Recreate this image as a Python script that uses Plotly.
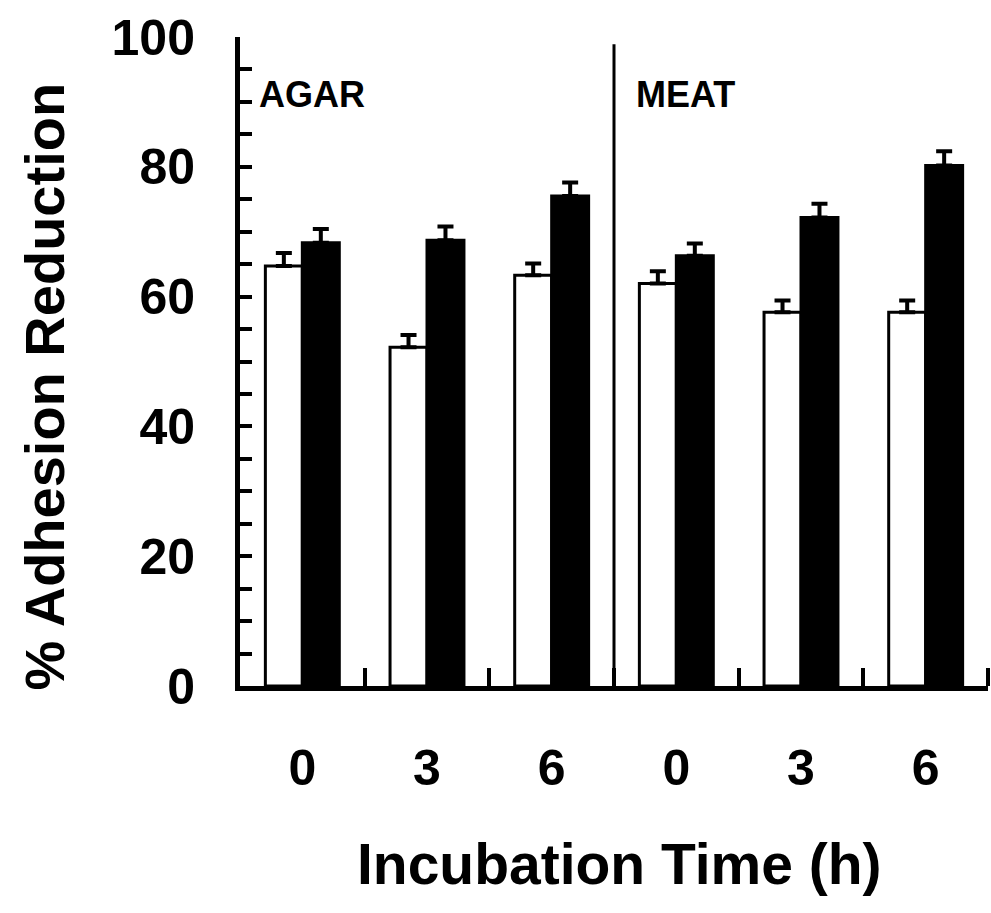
import plotly.graph_objects as go

# ---- data ----
time_labels = ["0", "3", "6", "0", "3", "6"]
white_values = [64.7, 52.2, 63.3, 62.0, 57.6, 57.6]
white_errors = [2.0, 1.9, 1.8, 1.9, 1.8, 1.8]
black_values = [68.3, 68.7, 75.5, 66.3, 72.2, 80.2]
black_errors = [2.1, 2.1, 2.1, 1.9, 2.1, 2.2]
panel_labels = ["AGAR", "MEAT"]
y_ticks = [0, 20, 40, 60, 80, 100]

positions = list(range(len(time_labels)))
boundaries = [p + 0.5 for p in positions]

FONT = "Liberation Sans, Arial, Helvetica, sans-serif"

fig = go.Figure()
fig.add_trace(go.Bar(
    x=positions, y=white_values,
    marker=dict(color="white", line=dict(color="black", width=3)),
    error_y=dict(type="data", array=white_errors, arrayminus=[0] * len(white_errors),
                 symmetric=False, color="black", thickness=4, width=8),
    showlegend=False,
))
fig.add_trace(go.Bar(
    x=positions, y=black_values,
    marker=dict(color="black", line=dict(color="black", width=3)),
    error_y=dict(type="data", array=black_errors, arrayminus=[0] * len(black_errors),
                 symmetric=False, color="black", thickness=4, width=8),
    showlegend=False,
))

# divider between AGAR and MEAT panels
fig.add_shape(type="line", xref="x", yref="y", x0=2.5, x1=2.5, y0=0, y1=98.9,
              line=dict(color="black", width=3))

fig.add_annotation(text="<b>%s</b>" % panel_labels[0], xref="x", yref="y", x=-0.36, y=91.1,
                   xanchor="left", yanchor="middle", showarrow=False,
                   font=dict(family=FONT, size=36, color="black"))
fig.add_annotation(text="<b>%s</b>" % panel_labels[1], xref="x", yref="y", x=2.66, y=91.1,
                   xanchor="left", yanchor="middle", showarrow=False,
                   font=dict(family=FONT, size=36, color="black"))

# axis titles
fig.add_annotation(text="<b>% Adhesion Reduction</b>", xref="paper", yref="paper",
                   x=-0.261, y=0.461, xanchor="center", yanchor="middle",
                   textangle=-90, showarrow=False,
                   font=dict(family=FONT, size=56, color="black"))
fig.add_annotation(text="<b>Incubation Time (h)</b>", xref="paper", yref="paper",
                   x=0.508, y=-0.274, xanchor="center", yanchor="middle",
                   showarrow=False,
                   font=dict(family=FONT, size=57, color="black"))

fig.update_layout(
    width=991, height=913,
    margin=dict(l=240, r=3, t=37, b=227),
    paper_bgcolor="white", plot_bgcolor="white",
    barmode="group", bargap=0.407, bargroupgap=0,
    font=dict(family=FONT, color="black"),
)
fig.update_xaxes(
    range=[-0.5, 5.5], tickvals=positions, ticktext=["<b>%s</b>" % t for t in time_labels],
    ticks="", showgrid=False, zeroline=False,
    showline=True, linecolor="black", linewidth=5,
    tickfont=dict(family=FONT, size=50, color="black"),
    ticklabelstandoff=34,
    minor=dict(tickvals=boundaries, ticks="inside", ticklen=18, tickwidth=4,
               tickcolor="black", showgrid=False),
)
fig.update_yaxes(
    range=[0, 100], tickvals=y_ticks, ticktext=["<b>%d</b>" % v for v in y_ticks],
    ticks="inside", ticklen=12, tickwidth=4,
    tickcolor="black", showgrid=False, zeroline=False,
    showline=True, linecolor="black", linewidth=5,
    tickfont=dict(family=FONT, size=50, color="black"),
    ticklabelstandoff=30,
    minor=dict(dtick=5, ticks="inside", ticklen=12, tickwidth=4,
               tickcolor="black", showgrid=False),
)

fig.write_html("out.html")
